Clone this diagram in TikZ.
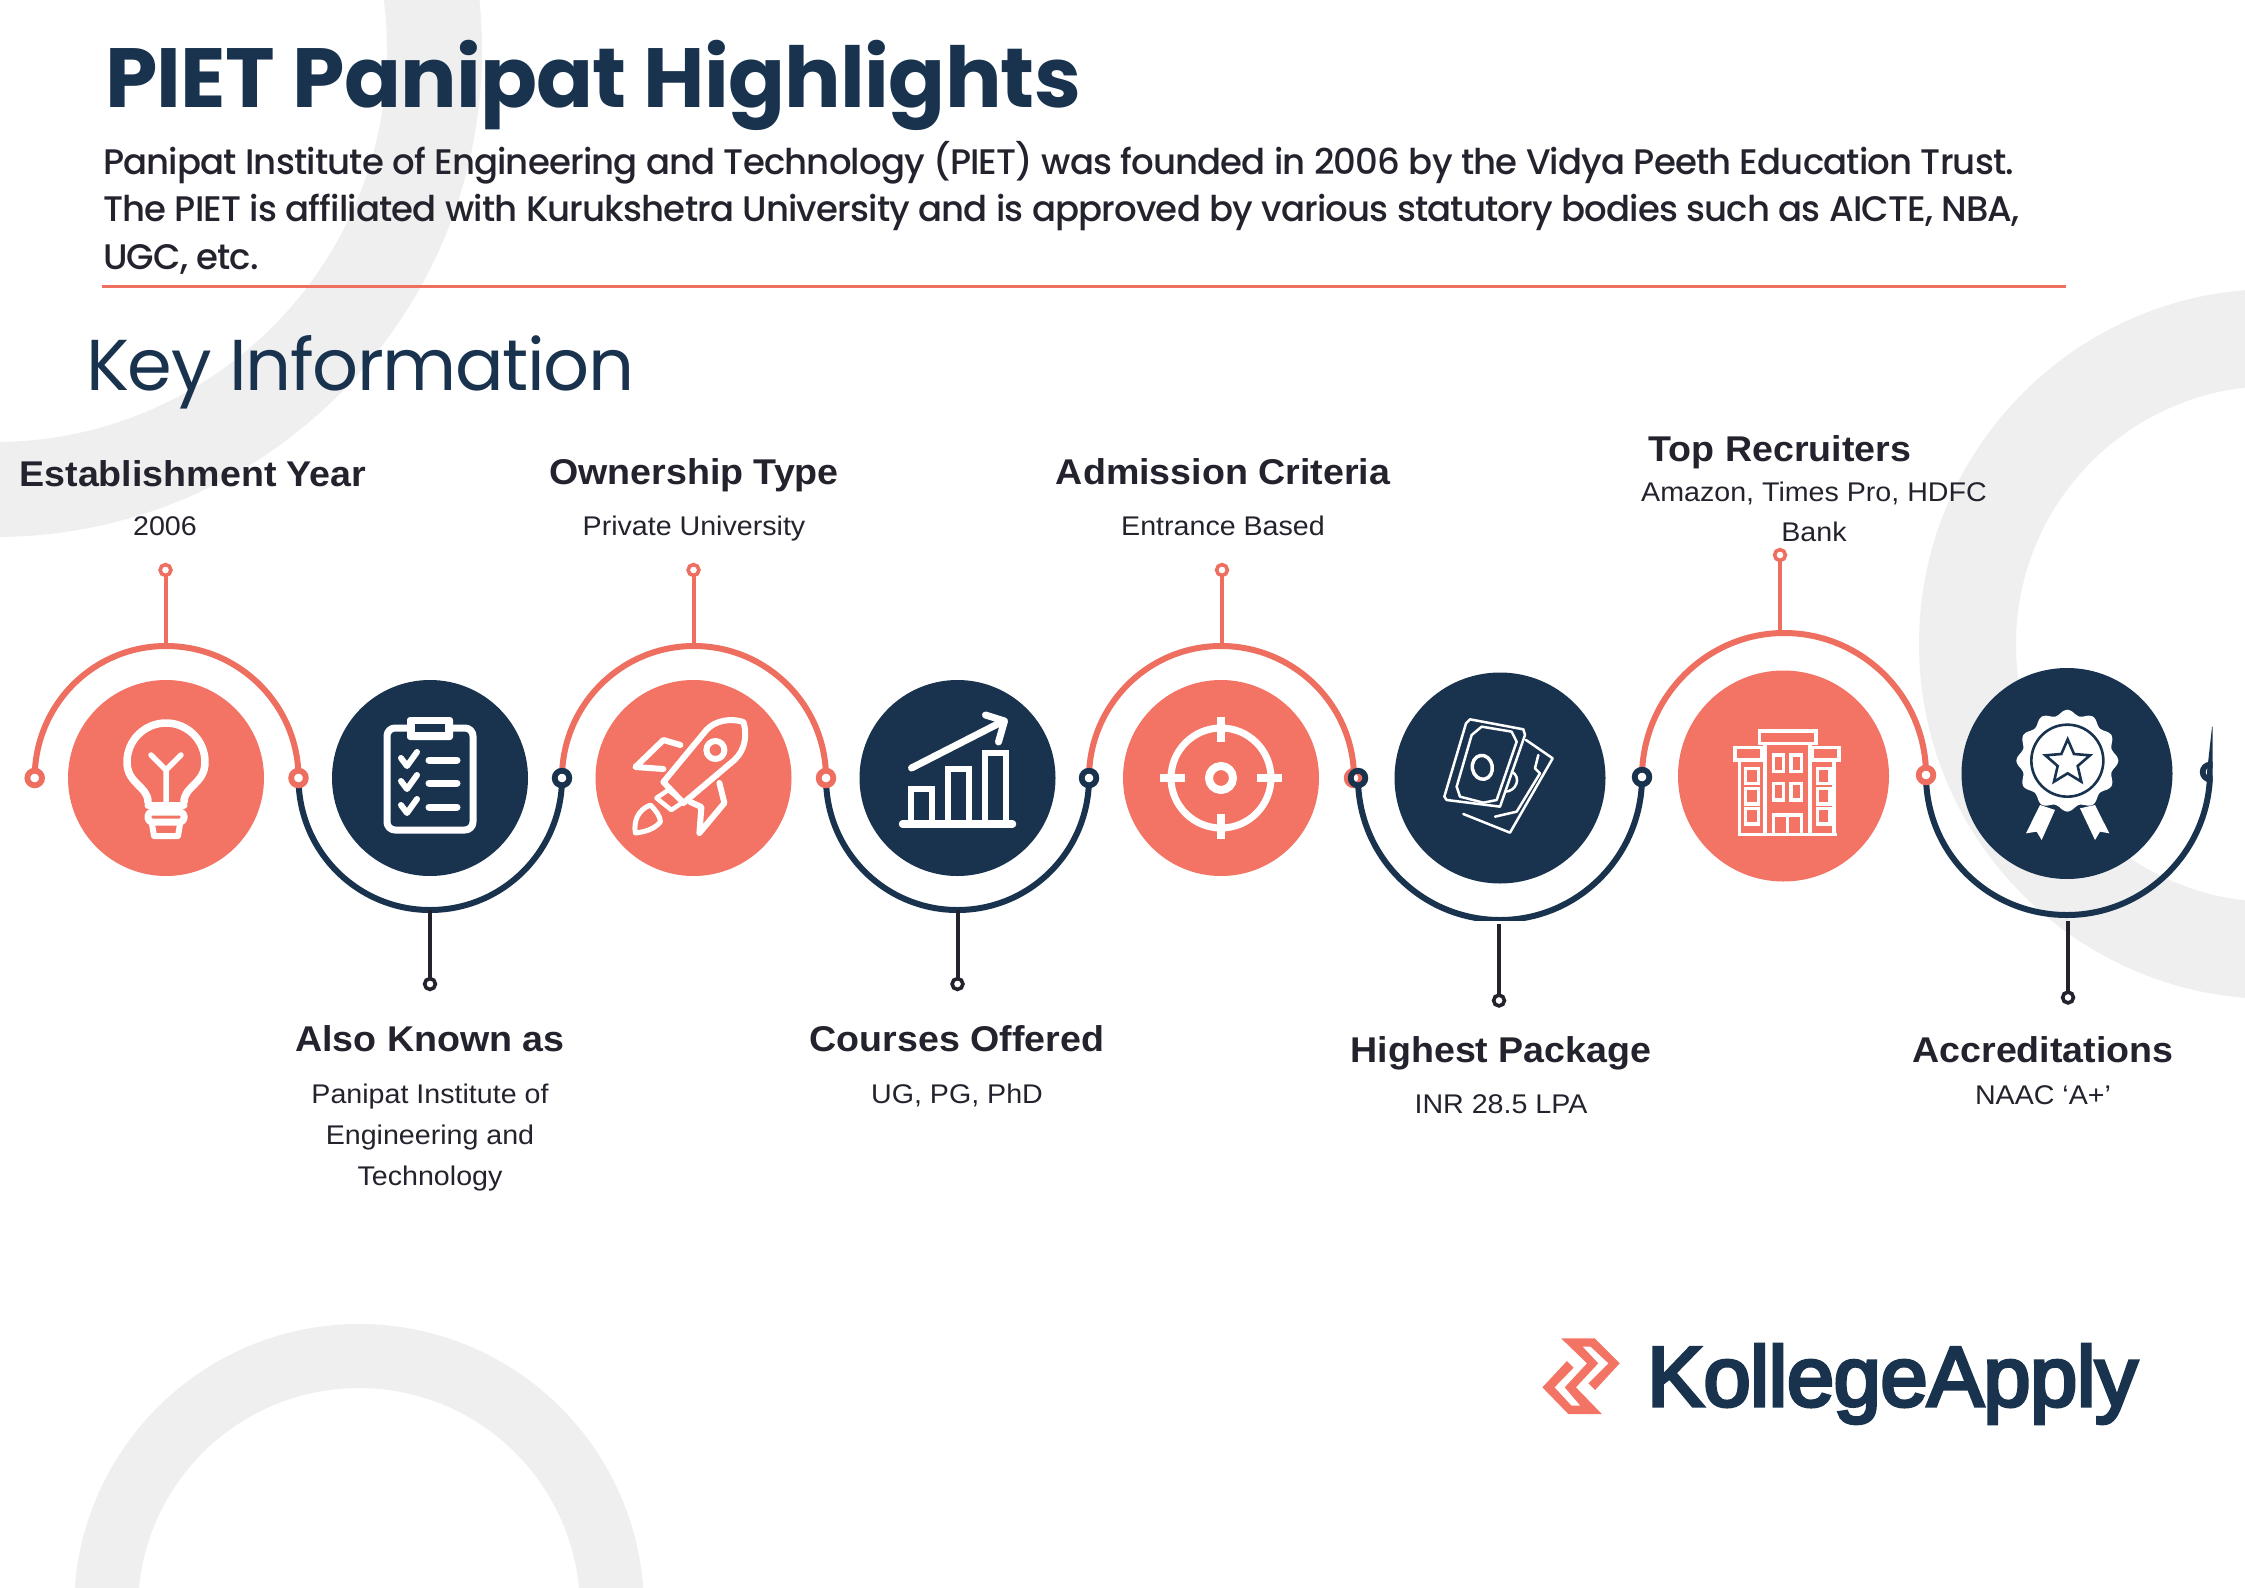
\documentclass[tikz,border=0pt]{standalone}
\usepackage{fontspec}
\newfontfamily\titlefont[LetterSpace=-0.9]{Poppins}
\newfontfamily\keyfont[LetterSpace=-2]{Poppins}
\newfontfamily\popfont[LetterSpace=-2.4]{Poppins Medium}
\newfontfamily\headfont[FakeStretch=1.05]{Liberation Sans}
\newfontfamily\smallfont[FakeStretch=1.06]{Liberation Sans}
\newfontfamily\logofont[FakeBold=4,LetterSpace=-0.6]{Liberation Sans}
\definecolor{coralfill}{HTML}{F37364}
\definecolor{coralline}{HTML}{EE6E60}
\definecolor{navy}{HTML}{19334F}
\definecolor{inkc}{HTML}{23232E}
\definecolor{ghost}{HTML}{EFEFF0}
\tikzset{
  x=1pt,y=-1pt,
  blobc/.style={circle,fill=coralfill,inner sep=0,outer sep=0},
  blobn/.style={circle,fill=navy,inner sep=0,outer sep=0},
  ringc/.style={circle,draw=coralline,fill=white,line width=5.8,minimum size=14.6,inner sep=0,outer sep=0},
  ringn/.style={circle,draw=navy,line width=5.8,minimum size=14.6,inner sep=0,outer sep=0},
  tipc/.style={circle,draw=coralline,fill=white,line width=3.6,minimum size=10.8,inner sep=0,outer sep=0},
  tipd/.style={circle,draw=inkc,fill=white,line width=3.6,minimum size=10.8,inner sep=0,outer sep=0},
  arcc/.style={draw=coralline,line width=6},
  arcn/.style={draw=navy,line width=6},
  stemc/.style={draw=coralline,line width=4},
  stemd/.style={draw=inkc,line width=4},
  iconw/.style={draw=white,line width=6,line cap=round,line join=round},
  hd/.style={anchor=base,inner sep=0,yshift=1pt,text=inkc,font=\headfont\bfseries\fontsize{35.8}{35.8}\selectfont},
  sm/.style={anchor=base,inner sep=0,yshift=1pt,text=inkc,font=\smallfont\fontsize{27}{27}\selectfont},
  bodyt/.style={anchor=base west,inner sep=0,text=inkc,font=\popfont\fontsize{35.5}{35.5}\selectfont},
}
\begin{document}
\begin{tikzpicture}
\useasboundingbox (0,0) rectangle (2245,1587);
\fill[white] (0,0) rectangle (2245,1587);
% ghost rings
\begin{scope}
\clip (0,0) rectangle (2245,1587);
\fill[ghost,even odd rule] (-5,50) circle[radius=487] (-5,50) circle[radius=392];
\fill[ghost,even odd rule] (2274,644) circle[radius=355] (2274,644) circle[radius=258];
\fill[ghost,even odd rule] (359,1609) circle[radius=285] (359,1609) circle[radius=221];
\end{scope}
% header
\node[anchor=base west,inner sep=0,text=navy,font=\titlefont\bfseries\fontsize{84}{84}\selectfont] (title) at (105,107) {PIET Panipat Highlights};
\node[bodyt] (b1) at (103,174) {Panipat Institute of Engineering and Technology (PIET) was founded in 2006 by the Vidya Peeth Education Trust.};
\node[bodyt] (b2) at (103,221) {The PIET is affiliated with Kurukshetra University and is approved by various statutory bodies such as AICTE, NBA,};
\node[bodyt] (b3) at (103,269) {UGC, etc.};
\coordinate (ruleL) at (102,286.5);
\coordinate (ruleR) at (2066,286.5);
\draw[draw=coralline,line width=2.5] (ruleL) -- (ruleR);
\node[anchor=base west,inner sep=0,text=navy,font=\keyfont\fontsize{72}{72}\selectfont] (key) at (86,390) {Key Information};
% labels
\node[hd] (h1) at (193,487.5) {Establishment Year};
\node[sm] (d1) at (165,536) {2006};
\node[hd] (h3) at (694,485) {Ownership Type};
\node[sm] (d3) at (694,536) {Private University};
\node[hd] (h5) at (1223,485) {Admission Criteria};
\node[sm] (d5) at (1223,536) {Entrance Based};
\node[hd] (h7) at (1780,462) {Top Recruiters};
\node[sm] (d7a) at (1814,502) {Amazon, Times Pro, HDFC};
\node[sm] (d7b) at (1814,542) {Bank};
\node[hd] (h2) at (430,1052) {Also Known as};
\node[sm] (d2a) at (430,1104) {Panipat Institute of};
\node[sm] (d2b) at (430,1145) {Engineering and};
\node[sm] (d2c) at (430,1186) {Technology};
\node[hd] (h4) at (957,1052) {Courses Offered};
\node[sm] (d4) at (957,1104) {UG, PG, PhD};
\node[hd] (h6) at (1501,1063) {Highest Package};
\node[sm] (d6) at (1501,1114) {INR 28.5 LPA};
\node[hd] (h8) at (2043,1063) {Accreditations};
\node[sm] (d8) at (2043,1105) {NAAC ‘A+’};
% path points
\coordinate (p0) at (34.7,778);
\coordinate (p1) at (298.5,778);
\coordinate (p2) at (562,778);
\coordinate (p3) at (826,778);
\coordinate (p4) at (1089,778);
\coordinate (p5) at (1354,778);
\coordinate (p5b) at (1358,778);
\coordinate (p6) at (1642,777);
\coordinate (p7) at (1926,775);
\coordinate (p8) at (2210,772);
\coordinate (top1) at (166,646);
\coordinate (bot2) at (430,910);
\coordinate (top3) at (694,646);
\coordinate (bot4) at (957.5,910);
\coordinate (top5) at (1221,646);
\coordinate (bot6) at (1500,920);
\coordinate (top7) at (1784,633);
\coordinate (bot8) at (2067,915);
\coordinate (up8) at (2215,727);
% arcs
\draw[arcc] (p0) .. controls +(0,-72.9) and +(-72.9,0) .. (top1) .. controls +(72.9,0) and +(0,-72.9) .. (p1);
\draw[arcn] (p1) .. controls +(0,72.9) and +(-72.9,0) .. (bot2) .. controls +(72.9,0) and +(0,72.9) .. (p2);
\draw[arcc] (p2) .. controls +(0,-72.9) and +(-72.9,0) .. (top3) .. controls +(72.9,0) and +(0,-72.9) .. (p3);
\draw[arcn] (p3) .. controls +(0,72.9) and +(-72.9,0) .. (bot4) .. controls +(72.9,0) and +(0,72.9) .. (p4);
\draw[arcc] (p4) .. controls +(0,-72.9) and +(-72.9,0) .. (top5) .. controls +(72.9,0) and +(0,-72.9) .. (p5);
\begin{scope}
\clip (1300,700) rectangle (1700,920);
\draw[arcn] (p5b) .. controls +(0,78.4) and +(-78.4,0) .. (bot6) .. controls +(78.4,0) and +(0,78.4) .. (p6);
\end{scope}
\draw[arcc] (p6) .. controls +(0,-78.4) and +(-78.4,0) .. (top7) .. controls +(78.4,0) and +(0,-78.4) .. (p7);
\begin{scope}
\clip (1900,700) rectangle (2212.5,940);
\draw[arcn] (p7) .. controls +(0,78.4) and +(-78.4,0) .. (bot8) .. controls +(78.4,0) and +(0,78.4) .. (p8) -- (up8);
\node[ringn] (r10) at (p8) {};
\end{scope}
% rings on the path
\node[ringc] (r0) at (p0) {};
\node[ringc] (r1) at (p1) {};
\node[ringn,fill=white] (r2) at (p2) {};
\node[ringc] (r3) at (p3) {};
\node[ringn,fill=white] (r4) at (p4) {};
\node[ringc] (r5) at (p5) {};
\node[ringn] (r5b) at (p5b) {};
\node[ringn,fill=white] (r6) at (p6) {};
\node[ringc] (r7) at (p7) {};
% stems
\node[tipc] (s1) at (165.5,570) {};
\node[tipd] (s2) at (430,984) {};
\node[tipc] (s3) at (693.5,570) {};
\node[tipd] (s4) at (957.5,984) {};
\node[tipc] (s5) at (1222,570) {};
\node[tipd] (s6) at (1499,1000.5) {};
\node[tipc] (s7) at (1780,555) {};
\node[tipd] (s8) at (2068,997.5) {};
\coordinate (e1) at (165.5,646);
\coordinate (e2) at (430,910);
\coordinate (e3) at (693.5,646);
\coordinate (e4) at (957.5,910);
\coordinate (e5) at (1222,646);
\coordinate (e6) at (1499,924);
\coordinate (e7) at (1780,630);
\coordinate (e8) at (2068,921);
\draw[stemc] (s1) -- (e1);
\draw[stemd] (s2) -- (e2);
\draw[stemc] (s3) -- (e3);
\draw[stemd] (s4) -- (e4);
\draw[stemc] (s5) -- (e5);
\draw[stemd] (s6) -- (e6);
\draw[stemc] (s7) -- (e7);
\draw[stemd] (s8) -- (e8);
% discs
\node[blobc,minimum size=196] (c1) at (166,778) {};
\node[blobn,minimum size=196] (c2) at (430,778) {};
\node[blobc,minimum size=196] (c3) at (693.5,778) {};
\node[blobn,minimum size=196] (c4) at (957.5,778) {};
\node[blobc,minimum size=196] (c5) at (1221,778) {};
\node[blobn,minimum size=211] (c6) at (1500,778) {};
\node[blobc,minimum size=211] (c7) at (1783.5,776) {};
\node[blobn,minimum size=211] (c8) at (2067,773.5) {};
% bulb
\begin{scope}[shift={(166,778)}]
\draw[iconw,line width=7.5] (-18,24) .. controls (-18,8) and (-39,6) .. (-39,-16) arc[start angle=180,end angle=360,radius=39] .. controls (39,6) and (18,8) .. (18,24);
\draw[iconw,line width=5.5] (0,24) -- (0,-8) -- (-15,-23) (0,-8) -- (15,-23);
\draw[iconw,line width=7,rounded corners=4] (-18,34) rectangle (18,44);
\draw[iconw] (-14,46) -- (-12,58) -- (12,58) -- (14,46);
\draw[iconw,line width=7] (-18,27) -- (18,27);
\end{scope}
% clipboard
\begin{scope}[shift={(430,778)}]
\draw[iconw,line width=7,rounded corners=8] (-43,-50) rectangle (43,52);
\fill[white,rounded corners=3] (-23,-61) rectangle (23,-38);
\fill[navy] (-15,-54) rectangle (15,-46);
\foreach \yy in {-18,5,29}{
  \draw[iconw] (-29,\yy-2) -- (-23,\yy+6) -- (-13,\yy-8);
  \draw[iconw,line width=7] (-1,\yy) -- (27,\yy);
}
\end{scope}
% rocket
\begin{scope}[shift={(693.4,778)},every path/.append style={line width=6.5}]
\draw[iconw] (-30,4) -- (13,-48) .. controls (22,-58) and (38,-60) .. (50,-56) .. controls (54,-44) and (52,-28) .. (41,-18) -- (-10,25) -- cycle;
\draw[iconw] (22,-28) circle[radius=9];
\draw[iconw] (-13,-33) -- (-30,-38) -- (-58,-11) -- (-30,-9);
\draw[iconw] (26,5) -- (31,25) -- (6,55) -- (8,29) -- (-3,24);
\draw[iconw,line width=4.5] (-25,12) -- (-10,24) -- (-22,32) -- (-37,20) -- cycle;
\draw[iconw,line width=5] (-43,27) .. controls (-38,32) and (-33,38) .. (-33,44) .. controls (-40,52) and (-50,54) .. (-58,55) .. controls (-60,44) and (-56,32) .. (-43,27) -- cycle;
\end{scope}
% chart
\begin{scope}[shift={(957.5,778)}]
\draw[iconw,line width=7.5] (-55,46) -- (55,46);
\draw[iconw,line cap=butt,line join=miter] (-47,46) -- (-47,11) -- (-26,11) -- (-26,46);
\draw[iconw,line cap=butt,line join=miter] (-10,46) -- (-10,-9) -- (11,-9) -- (11,46);
\draw[iconw,line cap=butt,line join=miter] (27,46) -- (27,-25) -- (48,-25) -- (48,46);
\draw[iconw,line width=7] (-46,-10) -- (46,-57);
\draw[iconw,line width=7] (28,-63) -- (47,-57) -- (41,-36);
\end{scope}
% target
\begin{scope}[shift={(1221,778)}]
\draw[draw=white,line width=7] (0,0) circle[radius=50];
\draw[draw=white,line width=8] (0,0) circle[radius=12];
\draw[draw=white,line width=8] (0,-61) -- (0,-36) (0,36) -- (0,61) (-61,0) -- (-36,0) (36,0) -- (61,0);
\end{scope}
% money
\begin{scope}[shift={(1400,660)},scale=0.3333]
\draw[iconw,line width=2.5] (378,240) -- (458,295) -- (330,518) -- (190,462);
\draw[iconw,line width=2.5] (415,285) -- (405,325) -- (420,340) -- (350,455) -- (285,470);
\draw[iconw,line width=2.5] (335,335) .. controls (365,350) and (350,395) .. (315,395);
\draw[iconw,line width=2.5] (210,178) -- (370,208) -- (375,225) -- (300,440) -- (140,420) -- (133,410) -- (198,190) -- cycle;
\draw[iconw,line width=2.5] (245,200) -- (335,215) -- (350,245) -- (290,420) -- (250,428) -- (180,410) -- (170,380) -- (215,225) -- cycle;
\draw[iconw,line width=3.5,rotate around={10:(247,322)}] (247,322) ellipse[x radius=30,y radius=36];
\end{scope}
% building
\begin{scope}[shift={(1690,700)},scale=0.3333,every path/.append style={draw=white,line width=3.6}]
\draw (208,93) rectangle (378,130);
\draw (225,130) -- (225,403) (360,130) -- (360,403);
\draw (135,143) rectangle (215,180);
\draw (368,143) rectangle (447,180);
\draw (148,180) -- (148,403) (432,180) -- (432,403);
\draw (145,403) -- (440,403);
\foreach \xa/\xb in {250/280,303/335}{
  \draw (\xa,165) rectangle (\xb,215);
  \draw (\xa,250) rectangle (\xb,300);
}
\draw (250,403) -- (250,345) -- (335,345) -- (335,403) (292,345) -- (292,403);
\foreach \xa/\xb in {167/205,382/420}{
  \draw (\xa,205) rectangle (\xb,250);
  \draw (\xa,265) rectangle (\xb,312);
  \draw (\xa,325) rectangle (\xb,372);
}
\end{scope}
% badge
\begin{scope}[shift={(1990,690)},scale=0.3333]
\fill[white] (150,345) -- (195,360) -- (155,450) -- (140,425) -- (108,430) -- cycle;
\fill[white] (270,355) -- (315,345) -- (358,430) -- (330,425) -- (315,450) -- cycle;
\fill[white] plot[smooth cycle,domain=0:355,samples=72] ({232+(145+8*cos(12*\x))*sin(\x)},{212-(145+8*cos(12*\x))*cos(\x)});
\draw[draw=navy,line width=2.6] (232,212) circle[radius=108];
\draw[draw=navy,line width=2.6,line join=miter] (233,148) -- (252,192) -- (300,196) -- (263,228) -- (274,275) -- (233,250) -- (192,275) -- (203,228) -- (166,196) -- (214,192) -- cycle;
\end{scope}
% logo
\begin{scope}[shift={(1500,1300)},xscale=0.4464,yscale=0.3333]
\fill[coralfill] (137,115) -- (212,115) -- (268,190) -- (213,270) -- (198,250) -- (243,190) -- (203,140) -- (185,140) -- (220,190) -- (170,262) -- (228,342) -- (153,342) -- (95,262) -- (150,183) -- (165,203) -- (122,262) -- (160,317) -- (180,317) -- (145,262) -- (195,190) -- cycle;
\end{scope}
\node[anchor=base west,inner sep=0,text=navy,font=\logofont\fontsize{85}{85}\selectfont] (logo) at (1647,1406) {KollegeApply};
\end{tikzpicture}
\end{document}
